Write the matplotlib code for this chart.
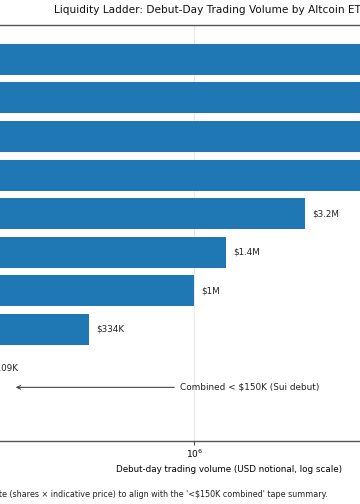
import numpy as np
import matplotlib
matplotlib.use("Agg")
import matplotlib.pyplot as plt
from matplotlib.ticker import NullLocator, LogLocator

# debut-day volume per ETF (USD notional), top to bottom
funds = ["XRPC", "BSOL", "XRPR", "SSK", "HBR", "DOJE", "LTCC", "GDOG", "TXXD", "Sui"]
volumes = [58e6, 55.4e6, 37.7e6, 8.0e6, 3.2e6, 1.4e6, 1.0e6, 334e3, 109e3, np.nan]
labels = ["$58M", "$55.4M", "$37.7M", "$8M", "$3.2M", "$1.4M", "$1M", "$334K", "$109K", ""]
sui_cap = 150e3

fig = plt.figure(figsize=(3.6, 5.04), dpi=100)
ax = fig.add_axes([-0.2778, 0.125, 1.8278, 0.8254])

y = np.arange(len(funds))
ax.barh(y, volumes, height=0.8, color="#1f77b4", zorder=2)
for yi, v, lab in zip(y, volumes, labels):
    if lab:
        ax.text(v * 1.08, yi, lab, va="center", ha="left", fontsize=6.3, color="#222222")

ax.annotate("Combined < $150K (Sui debut)", xy=(sui_cap, len(funds) - 1.5),
            xytext=(8.6e5, len(funds) - 1.5), va="center", ha="left",
            fontsize=6.4, color="#222222",
            arrowprops=dict(arrowstyle="->", color="#444444", lw=0.8))

ax.set_xscale("log")
ax.set_xlim(4.6e4, 4.51e7)
ax.set_ylim(len(funds) - 0.11, -0.89)
ax.xaxis.set_major_locator(LogLocator(base=10))
ax.xaxis.set_minor_locator(NullLocator())
ax.set_yticks(y)
ax.set_yticklabels(funds, fontsize=6.5)
ax.tick_params(axis="x", labelsize=6.5, length=3, color="#555555", pad=2)
ax.grid(axis="x", color="#e8e8e8", lw=0.8, zorder=0)
ax.set_axisbelow(True)
for s in ax.spines.values():
    s.set_color("#555555")
    s.set_linewidth(1.0)

ax.set_xlabel("Debut-day trading volume (USD notional, log scale)", fontsize=6.35, labelpad=3)
fig.text(54 / 360, 1 - 10 / 504, "Liquidity Ladder: Debut-Day Trading Volume by Altcoin ETFs",
         ha="left", va="center", fontsize=7.6, color="#111111")
fig.text(328 / 360, 1 - 494.5 / 504,
         "Note: volumes shown as USD notional estimate (shares \u00d7 indicative price) "
         "to align with the '<$150K combined' tape summary.",
         ha="right", va="center", fontsize=5.8, color="#222222")

fig.savefig("out.png", dpi=100)
